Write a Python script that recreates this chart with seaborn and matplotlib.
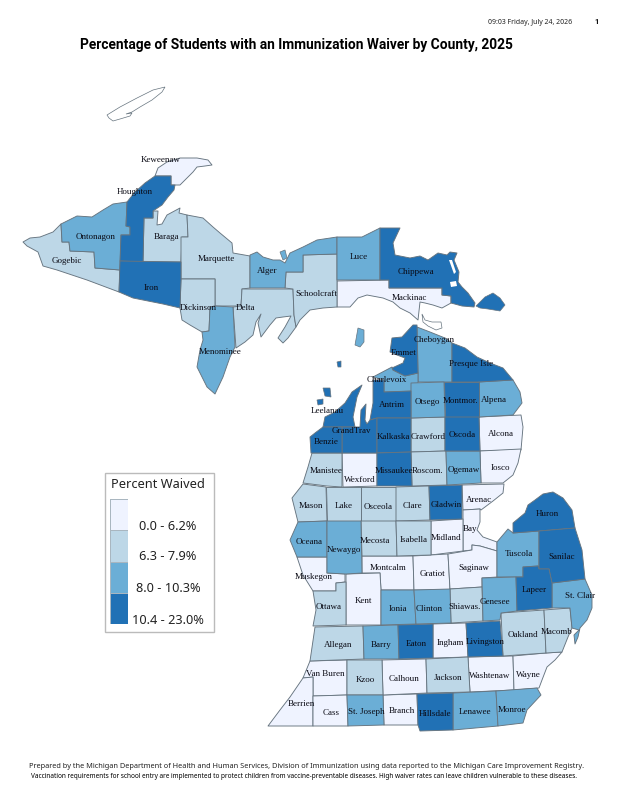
""" Michigan immunization waiver map """
import matplotlib
matplotlib.use("Agg")
import matplotlib.pyplot as plt
import numpy as np
import seaborn as sns

# class colours, lowest to highest
class_colors = ["#eff3ff", "#bdd7e7", "#6baed6", "#2171b5"]
class_labels = ["0.0 - 6.2%", "6.3 - 7.9%", "8.0 - 10.3%", "10.4 - 23.0%"]

title = "Percentage of Students with an Immunization Waiver by County, 2025"
stamp = "09:03 Friday, July 24, 2026"
foot1 = "Prepared by the Michigan Department of Health and Human Services, Division of Immunization using data reported to the Michigan Care Improvement Registry."
foot2 = "Vaccination requirements for school entry are implemented to protect children from vaccine-preventable diseases. High waiver rates can leave children vulnerable to these diseases."

# waiver class of every county
class0 = ["Keweenaw", "Mackinac", "Wexford", "Alcona", "Iosco", "Arenac", "Bay", "Midland", "Muskegon", "Montcalm",
          "Gratiot", "Saginaw", "Kent", "Ingham", "Van Buren", "Berrien", "Cass", "Branch", "Calhoun", "Washtenaw", "Wayne"]
class1 = ["Gogebic", "Baraga", "Marquette", "Dickinson", "Delta", "Schoolcraft", "Manistee", "Crawford", "Roscom.",
          "Mason", "Lake", "Osceola", "Clare", "Mecosta", "Isabella", "Ottawa", "Allegan", "Shiawas.", "Kzoo", "Jackson",
          "Oakland", "Macomb"]
class2 = ["Ontonagon", "Menominee", "Alger", "Luce", "Cheboygan", "Charlevoix", "Otsego", "Alpena", "Ogemaw", "Oceana",
          "Newaygo", "Tuscola", "St. Clair", "Genesee", "Ionia", "Clinton", "Barry", "St. Joseph", "Lenawee", "Monroe"]
class3 = ["Houghton", "Iron", "Chippewa", "Emmet", "Presque Isle", "Antrim", "Montmor.", "Leelanau", "GrandTrav", "Benzie",
          "Kalkaska", "Oscoda", "Missaukee", "Gladwin", "Huron", "Sanilac", "Lapeer", "Eaton", "Hillsdale", "Livingston"]
classes = [class0, class1, class2, class3]

# county outlines
outlines = {
    "Keweenaw": [(155,176),(158,168),(167,162),(180,158),(197,158),(208,160),(212,165),(205,166),(197,167),(193,172),(187,178),(180,185),(175,185),(171,185),(171,176)],
    "Houghton": [(155,176),(171,176),(171,185),(175,185),(174,190),(168,197),(162,205),(153,211),(153,218),(144,218),(143,262),(120,261),(121,235),(130,235),(130,227),(126,226),(127,202),(135,192),(145,183)],
    "Ontonagon": [(61,224),(77,216),(92,217),(103,210),(113,204),(127,202),(126,226),(130,227),(130,235),(121,235),(120,270),(95,268),(94,252),(70,251),(69,242),(62,242)],
    "Gogebic": [(23,242),(30,238),(40,237),(53,232),(61,224),(62,242),(69,242),(70,251),(94,252),(95,268),(120,270),(119,292),(87,280),(57,270),(43,266),(38,252),(27,246)],
    "Iron": [(120,261),(181,262),(181,280),(180,308),(163,304),(153,302),(133,298),(119,292)],
    "Baraga": [(144,218),(153,218),(153,211),(158,211),(157,225),(162,224),(167,215),(180,208),(179,213),(187,215),(188,237),(182,237),(181,262),(143,262)],
    "Marquette": [(187,215),(203,218),(213,227),(220,233),(232,243),(233,253),(250,256),(250,288),(242,289),(241,306),(215,306),(215,279),(181,279),(181,237),(188,237)],
    "Dickinson": [(181,279),(215,279),(215,306),(210,307),(209,331),(202,332),(190,325),(182,320),(180,308)],
    "Menominee": [(215,306),(233,307),(235,347),(230,357),(223,377),(215,394),(207,387),(197,367),(200,350),(203,340),(202,332),(209,331),(210,307)],
    "Delta": [(242,289),(293,289),(294,315),(296,327),(288,338),(283,343),(278,338),(285,327),(291,316),(283,317),(276,318),(270,325),(261,337),(258,323),(261,314),(256,322),(253,335),(245,342),(236,348),(233,307),(241,306)],
    "Alger": [(250,255),(257,252),(263,257),(273,260),(280,260),(285,263),(290,253),(303,247),(317,240),(337,237),(337,254),(303,255),(303,272),(286,272),(285,288),(250,288)],
    "Schoolcraft": [(303,255),(337,254),(337,307),(323,308),(310,310),(300,320),(296,327),(294,315),(293,289),(285,288),(286,272),(303,272)],
    "Luce": [(337,237),(362,237),(380,228),(380,280),(337,280)],
    "Chippewa": [(380,228),(400,228),(393,243),(395,255),(410,258),(420,256),(428,260),(438,253),(447,255),(450,252),(457,253),(454,260),(459,272),(458,282),(462,287),(468,293),(475,303),(474,307),(462,306),(451,303),(451,296),(442,295),(442,288),(389,288),(389,280),(380,280)],
    "Mackinac": [(337,281),(389,280),(389,288),(442,288),(442,295),(451,296),(451,303),(442,308),(433,305),(425,303),(420,302),(418,320),(410,313),(400,308),(393,302),(383,298),(367,295),(358,298),(350,307),(337,307)],
    "Emmet": [(392,338),(402,337),(413,325),(417,325),(418,373),(405,376),(393,370),(392,368),(403,363),(405,358),(397,355),(390,352)],
    "Cheboygan": [(417,327),(430,332),(445,338),(452,343),(452,382),(418,382),(418,373)],
    "Presque Isle": [(452,343),(465,348),(477,357),(490,363),(503,368),(513,380),(478,382),(452,382)],
    "Alpena": [(479,382),(513,380),(520,392),(522,403),(513,415),(479,417)],
    "Montmor.": [(444,382),(479,382),(479,417),(445,417)],
    "Otsego": [(411,383),(444,382),(445,417),(411,418)],
    "Charlevoix": [(373,377),(392,367),(393,370),(405,376),(418,373),(418,391),(384,392),(384,380)],
    "Antrim": [(373,380),(384,380),(384,392),(411,391),(411,418),(377,418),(370,420),(373,403)],
    "Leelanau": [(323,427),(325,417),(335,412),(345,403),(352,392),(362,385),(357,397),(353,417),(355,427)],
    "GrandTrav": [(342,427),(358,427),(360,427),(361,410),(366,404),(365,420),(367,424),(370,420),(377,418),(377,453),(342,453)],
    "Benzie": [(323,427),(342,427),(342,453),(311,453),(310,437),(315,433)],
    "Manistee": [(312,453),(342,453),(342,487),(327,486),(303,483),(308,467)],
    "Wexford": [(342,453),(377,453),(377,486),(343,487)],
    "Kalkaska": [(377,418),(411,418),(411,452),(377,453)],
    "Crawford": [(411,418),(445,417),(445,451),(411,452)],
    "Oscoda": [(445,417),(479,417),(480,451),(445,451)],
    "Alcona": [(479,417),(521,415),(523,427),(521,450),(480,451)],
    "Missaukee": [(377,453),(411,452),(412,486),(377,486)],
    "Roscom.": [(411,452),(446,451),(447,485),(412,486)],
    "Ogemaw": [(446,451),(480,451),(481,483),(447,485)],
    "Iosco": [(480,451),(521,449),(518,463),(513,475),(503,483),(481,483)],
    "Mason": [(303,484),(326,487),(327,521),(298,522),(292,498)],
    "Lake": [(326,487),(361,487),(361,521),(327,521)],
    "Osceola": [(361,487),(396,487),(396,521),(361,521)],
    "Clare": [(396,487),(429,486),(430,520),(396,521)],
    "Gladwin": [(429,486),(462,485),(462,519),(430,520)],
    "Arenac": [(462,485),(504,484),(503,493),(493,501),(481,510),(480,509),(463,510)],
    "Bay": [(463,510),(480,509),(480,522),(477,530),(483,537),(497,542),(497,551),(480,546),(472,545),(472,550),(463,551)],
    "Midland": [(431,521),(463,519),(463,551),(431,555)],
    "Isabella": [(396,521),(431,521),(431,555),(397,556)],
    "Mecosta": [(361,521),(396,521),(397,556),(362,556)],
    "Newaygo": [(327,521),(361,521),(362,573),(346,574),(327,573)],
    "Oceana": [(298,522),(327,521),(327,557),(297,557),(290,540)],
    "Muskegon": [(297,557),(327,557),(327,573),(345,574),(345,582),(336,583),(336,591),(313,591),(303,575)],
    "Ottawa": [(313,591),(336,591),(336,583),(346,582),(346,625),(313,626),(316,610)],
    "Kent": [(346,574),(380,573),(381,590),(381,625),(346,625)],
    "Montcalm": [(362,556),(413,556),(414,590),(381,590),(380,573),(362,573)],
    "Gratiot": [(413,556),(448,554),(450,590),(414,590)],
    "Saginaw": [(448,554),(472,550),(472,545),(480,546),(497,551),(497,577),(482,578),(482,587),(450,589)],
    "Tuscola": [(497,542),(508,529),(513,533),(539,531),(539,569),(538,566),(523,567),(523,577),(497,577)],
    "Huron": [(513,533),(513,523),(525,513),(528,505),(535,500),(543,494),(553,492),(563,498),(572,510),(575,528),(539,531)],
    "Sanilac": [(539,531),(575,528),(582,550),(585,579),(552,583),(549,569),(539,569)],
    "Lapeer": [(523,567),(538,566),(539,569),(549,569),(552,583),(552,608),(517,611),(516,577),(523,577)],
    "Genesee": [(482,578),(516,577),(517,611),(501,613),(500,620),(483,621)],
    "St. Clair": [(552,583),(585,579),(592,595),(592,608),(587,620),(580,628),(578,637),(575,644),(574,635),(579,630),(572,628),(570,608),(552,608)],
    "Oakland": [(501,613),(544,610),(546,653),(503,656)],
    "Macomb": [(544,610),(570,608),(572,628),(568,637),(562,652),(546,653)],
    "Shiawas.": [(450,589),(482,587),(483,621),(451,623)],
    "Clinton": [(414,590),(450,589),(451,623),(416,624)],
    "Ionia": [(381,590),(414,590),(416,624),(381,625)],
    "Allegan": [(315,627),(363,626),(364,659),(310,661)],
    "Barry": [(363,626),(398,625),(399,659),(364,659)],
    "Eaton": [(398,625),(433,624),(433,658),(399,659)],
    "Ingham": [(433,624),(466,623),(468,657),(433,658)],
    "Livingston": [(466,623),(500,621),(503,656),(468,657)],
    "Van Buren": [(310,661),(347,660),(347,695),(313,696),(313,677),(303,678)],
    "Berrien": [(303,678),(313,677),(313,726),(268,726),(280,710),(290,697)],
    "Cass": [(313,696),(347,695),(348,726),(313,726)],
    "St. Joseph": [(347,695),(383,695),(384,725),(348,726)],
    "Branch": [(383,695),(417,694),(418,725),(384,725)],
    "Hillsdale": [(417,694),(453,693),(453,730),(420,731),(418,725)],
    "Lenawee": [(453,693),(496,691),(498,726),(453,730)],
    "Monroe": [(496,691),(537,688),(541,695),(527,710),(523,723),(498,726)],
    "Kzoo": [(347,660),(382,660),(383,695),(347,695)],
    "Calhoun": [(382,660),(426,659),(427,693),(383,695)],
    "Jackson": [(426,659),(468,657),(470,692),(427,693)],
    "Washtenaw": [(468,657),(513,656),(514,690),(470,692)],
    "Wayne": [(513,656),(546,653),(562,652),(555,660),(547,667),(542,680),(539,688),(514,690)],
}

# islands: outline, then waiver class
islands = [
    ([(107,115),(120,107),(137,98),(153,90),(165,87),(162,92),(152,100),(140,107),(132,112),(126,114),(132,113),(130,116),(120,119),(113,121),(109,118)], 0),
    ([(280,252),(285,250),(287,258),(283,260)], 2),
    ([(355,345),(358,328),(364,330),(364,342),(360,347)], 2),
    ([(422,314),(425,320),(432,322),(441,322),(442,328),(436,330),(428,326),(423,322)], 0),
    ([(323,388),(330,388),(331,397),(325,396)], 3),
    ([(317,400),(323,399),(323,404),(318,405)], 3),
    ([(337,362),(341,361),(341,367),(338,367)], 3),
    ([(476,306),(485,297),(493,293),(500,298),(505,305),(500,311),(488,309),(480,308)], 3),
]

# water channels inside Chippewa
channels = [
    [(449,260),(452,260),(456,272),(454,274)],
    [(450,282),(456,281),(457,286),(451,287)],
]

# county name label positions
label_pos = {
    "Keweenaw": (161,160), "Houghton": (135,192), "Ontonagon": (96,237), "Gogebic": (67,261), "Baraga": (167,237),
    "Iron": (151,288), "Marquette": (216,259), "Alger": (267,271), "Dickinson": (198,308), "Delta": (245,308),
    "Schoolcraft": (316,294), "Luce": (359,257), "Chippewa": (416,272), "Mackinac": (409,298), "Menominee": (220,352),
    "Cheboygan": (434,340), "Emmet": (404,353), "Presque Isle": (471,364), "Charlevoix": (387,380), "Otsego": (427,402),
    "Antrim": (392,405), "Montmor.": (461,401), "Alpena": (494,400), "Leelanau": (327,411), "GrandTrav": (351,431),
    "Benzie": (326,442), "Kalkaska": (393,437), "Crawford": (428,437), "Oscoda": (462,435), "Alcona": (501,434),
    "Manistee": (326,471), "Wexford": (360,480), "Missaukee": (394,471), "Roscom.": (428,471), "Ogemaw": (464,470),
    "Iosco": (500,468), "Arenac": (479,500), "Mason": (311,506), "Lake": (344,506), "Osceola": (378,507),
    "Clare": (412,506), "Gladwin": (446,505), "Bay": (470,529), "Huron": (547,514), "Oceana": (309,542),
    "Newaygo": (344,550), "Mecosta": (375,541), "Isabella": (414,540), "Midland": (446,538), "Tuscola": (519,554),
    "Sanilac": (562,557), "Montcalm": (388,568), "Gratiot": (432,574), "Saginaw": (474,568), "Muskegon": (314,577),
    "Kent": (363,601), "Ottawa": (329,607), "Ionia": (398,609), "Clinton": (429,609), "Shiawas.": (465,607),
    "Genesee": (495,602), "Lapeer": (534,590), "St. Clair": (580,596), "Allegan": (338,645), "Barry": (381,645),
    "Eaton": (416,644), "Ingham": (450,643), "Livingston": (485,642), "Oakland": (523,635), "Macomb": (557,632),
    "Van Buren": (325,674), "Kzoo": (365,680), "Calhoun": (404,679), "Jackson": (448,678), "Washtenaw": (490,676),
    "Wayne": (528,675), "Berrien": (301,704), "Cass": (331,713), "St. Joseph": (366,712), "Branch": (402,711),
    "Hillsdale": (435,714), "Lenawee": (475,712), "Monroe": (512,710),
}

W, H = 617, 799
EDGE = "#66747f"

sns.set_style("white")
plt.rcParams["font.family"] = ["Noto Sans", "DejaVu Sans"]
palette = sns.color_palette(class_colors)

fig = plt.figure(figsize=(W / 100, H / 100), dpi=100)
ax = fig.add_axes([0, 0, 1, 1])
ax.set_xlim(0, W)
ax.set_ylim(H, 0)
ax.axis("off")

for c, names in enumerate(classes):
    for name in names:
        xs, ys = zip(*outlines[name])
        ax.fill(xs, ys, facecolor=palette[c], edgecolor=EDGE, linewidth=0.65, joinstyle="round")
for pts, c in islands:
    xs, ys = zip(*pts)
    ax.fill(xs, ys, facecolor=palette[c] if c else "white", edgecolor=EDGE, linewidth=0.5)
for pts in channels:
    xs, ys = zip(*pts)
    ax.fill(xs, ys, facecolor="white", edgecolor="none")

for name, (x, y) in label_pos.items():
    ax.text(x, y, name, ha="center", va="center", fontsize=6.5, family="Liberation Serif", color="#0a0a14")

ax.text(296.5, 45, title, ha="center", va="center", fontsize=9.9, fontweight="bold", family="Roboto", color="black")
ax.text(488, 22, stamp, ha="left", va="center", fontsize=5, color="#222222")
ax.text(597, 22, "1", ha="center", va="center", fontsize=5.4, fontweight="bold", family="Roboto", color="black")
ax.text(307, 767, foot1, ha="center", va="center", fontsize=5.3, color="#222222")
ax.text(304, 776, foot2, ha="center", va="center", fontsize=4.65, color="black")

# legend box with the swatches as a small heatmap
ax.add_patch(plt.Rectangle((105, 473), 109, 159, facecolor="white", edgecolor="#bbbbbb", linewidth=1))
ax.text(158, 484, "Percent Waived", ha="center", va="center", fontsize=9.2, color="#222222")
lax = fig.add_axes([110 / W, 1 - 624 / H, 18 / W, 125 / H])
sns.heatmap(np.arange(4).reshape(4, 1), cmap=palette, cbar=False, ax=lax, xticklabels=False, yticklabels=False,
            linewidths=0.7, linecolor="#a9b6c0")
for label, y in zip(class_labels, [526, 557, 589, 620]):
    ax.text(168, y, label, ha="center", va="center", fontsize=9.2, color="#222222")

fig.savefig("out.png", dpi=100)
